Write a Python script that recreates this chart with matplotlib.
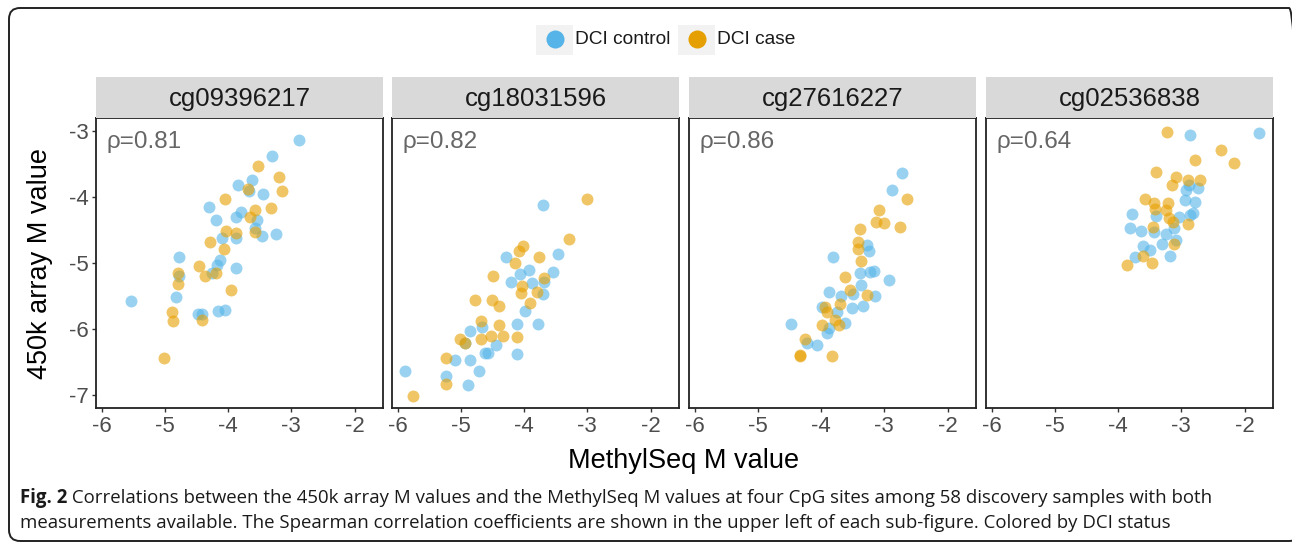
import matplotlib
matplotlib.use("Agg")
import matplotlib.pyplot as plt
from matplotlib.patches import FancyBboxPatch, Rectangle
from matplotlib.lines import Line2D
import numpy as np

plt.rcParams['font.family'] = ['Liberation Sans', 'DejaVu Sans']
plt.rcParams['axes.unicode_minus'] = False

# ---------------- data ----------------
sites = ["cg09396217", "cg18031596", "cg27616227", "cg02536838"]
rhos = ["0.81", "0.82", "0.86", "0.64"]
groups = ["DCI control", "DCI case"]
xticks = [-6, -5, -4, -3, -2]
yticks = [-3, -4, -5, -6, -7]

# cg09396217
s1_ctrl_x = [-2.88, -3.30, -3.63, -3.84, -3.67, -3.45, -4.30, -3.79, -3.87, -4.19, -3.55, -3.57, -3.47, -3.25,
             -3.87, -4.09, -4.13, -4.18, -3.87, -4.77, -4.77, -4.26, -4.82, -5.54, -4.47, -4.41, -4.16, -4.05]
s1_ctrl_y = [-3.14, -3.38, -3.75, -3.82, -3.92, -3.96, -4.16, -4.23, -4.31, -4.36, -4.35, -4.48, -4.60, -4.56,
             -4.63, -4.63, -4.96, -5.04, -5.08, -4.91, -5.20, -5.16, -5.52, -5.58, -5.78, -5.78, -5.73, -5.71]
s1_case_x = [-3.53, -3.19, -3.14, -3.68, -4.05, -3.32, -3.58, -3.66, -4.03, -3.87, -3.57, -4.28, -4.06, -4.46,
             -4.37, -4.19, -4.79, -4.79, -3.96, -4.89, -4.87, -4.41, -5.01]
s1_case_y = [-3.54, -3.71, -3.91, -3.89, -4.04, -4.17, -4.20, -4.31, -4.52, -4.55, -4.54, -4.69, -4.80, -5.05,
             -5.20, -5.15, -5.16, -5.32, -5.42, -5.75, -5.89, -5.87, -6.45]

# cg18031596
s2_ctrl_x = [-3.70, -3.47, -4.28, -3.93, -4.07, -3.55, -4.20, -3.88, -3.68, -3.70, -3.99, -4.11, -3.78, -4.85,
             -4.67, -4.94, -4.44, -4.62, -4.57, -4.12, -5.10, -4.86, -4.71, -5.24, -4.89, -5.89]
s2_ctrl_y = [-4.13, -4.87, -4.91, -5.11, -5.17, -5.14, -5.30, -5.31, -5.30, -5.48, -5.73, -5.93, -5.93, -6.03,
             -5.97, -6.22, -6.25, -6.37, -6.36, -6.39, -6.48, -6.48, -6.64, -6.71, -6.85, -6.64]
s2_case_x = [-3.00, -3.29, -4.02, -4.08, -3.76, -4.14, -4.49, -4.03, -3.68, -4.05, -3.80, -3.91, -4.77, -4.51,
             -4.39, -4.68, -4.39, -5.02, -4.94, -4.68, -4.52, -4.33, -4.12, -5.24, -5.24, -5.76]
s2_case_y = [-4.04, -4.64, -4.75, -4.82, -4.92, -5.01, -5.20, -5.35, -5.23, -5.46, -5.44, -5.61, -5.57, -5.56,
             -5.66, -5.88, -5.94, -6.15, -6.22, -6.15, -6.11, -6.11, -6.12, -6.44, -6.84, -7.02]

# cg27616227
s3_ctrl_x = [-2.72, -2.88, -3.28, -3.25, -3.81, -3.17, -3.22, -3.39, -2.93, -3.37, -3.87, -3.49, -3.68, -3.15,
             -3.99, -3.51, -3.34, -3.75, -3.62, -3.88, -3.90, -4.48, -4.23, -4.07]
s3_ctrl_y = [-3.64, -3.90, -4.73, -4.83, -4.91, -5.12, -5.14, -5.16, -5.26, -5.34, -5.45, -5.47, -5.50, -5.50,
             -5.67, -5.68, -5.66, -5.74, -5.92, -5.99, -6.06, -5.93, -6.21, -6.25]
s3_case_x = [-2.64, -3.09, -3.13, -3.00, -2.76, -3.38, -3.41, -3.41, -3.37, -3.62, -3.54, -3.28, -3.70, -3.94,
             -3.91, -3.78, -3.99, -3.72, -4.26, -4.33, -4.33, -3.83]
s3_case_y = [-4.03, -4.21, -4.38, -4.40, -4.46, -4.49, -4.69, -4.80, -4.98, -5.21, -5.41, -5.49, -5.62, -5.67,
             -5.74, -5.87, -5.94, -5.94, -6.16, -6.40, -6.42, -6.41]

# cg02536838
s4_ctrl_x = [-1.77, -2.87, -2.92, -2.74, -2.88, -2.94, -2.79, -2.82, -2.87, -3.04, -3.78, -3.40, -3.82, -3.64,
             -3.44, -3.11, -3.24, -3.08, -3.30, -3.61, -3.50, -3.74, -3.18]
s4_ctrl_y = [-3.04, -3.06, -3.90, -3.87, -3.82, -4.05, -4.08, -4.25, -4.28, -4.31, -4.26, -4.29, -4.48, -4.52,
             -4.53, -4.48, -4.56, -4.66, -4.72, -4.75, -4.81, -4.91, -4.90]
s4_case_x = [-3.23, -2.38, -2.78, -2.17, -3.40, -3.08, -2.90, -2.70, -3.15, -3.58, -3.44, -3.21, -3.42, -3.25,
             -3.19, -3.13, -2.90, -3.45, -3.11, -3.61, -3.46, -3.86]
s4_case_y = [-3.02, -3.30, -3.44, -3.49, -3.62, -3.70, -3.75, -3.75, -3.82, -4.04, -4.09, -4.09, -4.18, -4.20,
             -4.33, -4.38, -4.41, -4.46, -4.71, -4.90, -5.01, -5.04]

ctrl_x = [s1_ctrl_x, s2_ctrl_x, s3_ctrl_x, s4_ctrl_x]
ctrl_y = [s1_ctrl_y, s2_ctrl_y, s3_ctrl_y, s4_ctrl_y]
case_x = [s1_case_x, s2_case_x, s3_case_x, s4_case_x]
case_y = [s1_case_y, s2_case_y, s3_case_y, s4_case_y]

caption_bold = "Fig. 2"
caption_l1 = (" Correlations between the 450k array M values and the MethylSeq M values at four CpG sites "
              "among 58 discovery samples with both")
caption_l2 = ("measurements available. The Spearman correlation coefficients are shown in the upper left "
              "of each sub-figure. Colored by DCI status")

# ---------------- style ----------------
BLUE = "#56B4E9"
ORANGE = "#E69F00"
W, H = 1292, 546
fig = plt.figure(figsize=(W / 100, H / 100), dpi=100)

def fx(px):
    return px / W

def fy(py):
    return 1 - py / H

# outer rounded frame in inch units (1 in = 100 px); right side runs past the image border
frame = FancyBboxPatch((0.09, (H - 541) / 100), (1300 - 9) / 100, (541 - 8) / 100,
                       boxstyle="round,pad=0,rounding_size=0.11", transform=fig.dpi_scale_trans,
                       fill=False, edgecolor="#222222", linewidth=1.4, clip_on=False)
fig.add_artist(frame)

lefts = [96, 392, 689, 986]
pw = 287
ptop, pbot = 118, 408
stop = 77

for i in range(4):
    ax = fig.add_axes([fx(lefts[i]), fy(pbot), pw / W, (pbot - ptop) / H])
    ax.scatter(ctrl_x[i], ctrl_y[i], s=74, color=BLUE, alpha=0.6, linewidths=0, zorder=3)
    ax.scatter(case_x[i], case_y[i], s=74, color=ORANGE, alpha=0.6, linewidths=0, zorder=3)
    ax.set_xlim(-6.09, -1.55)
    ax.set_ylim(-7.2, -2.81)
    ax.set_xticks(xticks)
    ax.set_xticklabels([str(t) for t in xticks])
    ax.set_yticks(yticks)
    if i == 0:
        ax.set_yticklabels([str(t) for t in yticks])
    else:
        ax.tick_params(axis='y', left=False, labelleft=False)
    ax.tick_params(axis='both', length=3, width=1, color="#333333", labelsize=16,
                   labelcolor="#4D4D4D", pad=2.5)
    for sp in ax.spines.values():
        sp.set_color("#222222")
        sp.set_linewidth(1.3)
    ax.text(0.035, 0.955, "\u03c1=" + rhos[i], transform=ax.transAxes, ha='left', va='top',
            fontsize=17.5, color="#666666")
    # strip
    sax = fig.add_axes([fx(lefts[i]), fy(ptop), pw / W, (ptop - stop) / H])
    sax.set_facecolor("#D9D9D9")
    sax.set_xticks([])
    sax.set_yticks([])
    for sp in sax.spines.values():
        sp.set_visible(False)
    sax.text(0.5, 0.47, sites[i], transform=sax.transAxes, ha='center', va='center',
             fontsize=18.5, color="#1A1A1A")

# axis titles
fig.text(fx(40), fy(263), "450k array M value", rotation=90, ha='center', va='center',
         fontsize=19.5, color="#000000")
fig.text(fx(684), fy(461), "MethylSeq M value", ha='center', va='center',
         fontsize=19.5, color="#000000")

# legend (manual)
fig.add_artist(Rectangle((fx(536), fy(55)), 37 / W, 30 / H, transform=fig.transFigure,
                         facecolor="#F2F2F2", edgecolor="none"))
fig.add_artist(Rectangle((fx(678), fy(55)), 37 / W, 30 / H, transform=fig.transFigure,
                         facecolor="#F2F2F2", edgecolor="none"))
fig.add_artist(Line2D([fx(554.5)], [fy(39)], marker='o', markersize=13, color=BLUE,
                      markeredgewidth=0, linestyle='none', transform=fig.transFigure))
fig.add_artist(Line2D([fx(696.5)], [fy(39)], marker='o', markersize=13, color=ORANGE,
                      markeredgewidth=0, linestyle='none', transform=fig.transFigure))
fig.text(fx(575), fy(40), groups[0], ha='left', va='center', fontsize=13.8, color="#1A1A1A")
fig.text(fx(717), fy(40), groups[1], ha='left', va='center', fontsize=13.8, color="#1A1A1A")

# caption, fitted to width
renderer = fig.canvas.get_renderer()
cap_font = ['Open Sans', 'DejaVu Sans']
fs = 12.0
tb = fig.text(fx(20), fy(498), caption_bold, ha='left', va='center', fontsize=fs,
              fontweight='bold', family=cap_font, color="#1A1A1A")
t2 = fig.text(fx(20), fy(523), caption_l2, ha='left', va='center', fontsize=fs,
              family=cap_font, color="#1A1A1A")
w2 = t2.get_window_extent(renderer).width
fs = fs * (1143 / w2)
t2.set_fontsize(fs)
tb.set_fontsize(fs)
wb = tb.get_window_extent(renderer).width
fig.text(fx(20 + wb), fy(498), caption_l1, ha='left', va='center', fontsize=fs,
         family=cap_font, color="#1A1A1A")

fig.savefig("out.png", dpi=100)
